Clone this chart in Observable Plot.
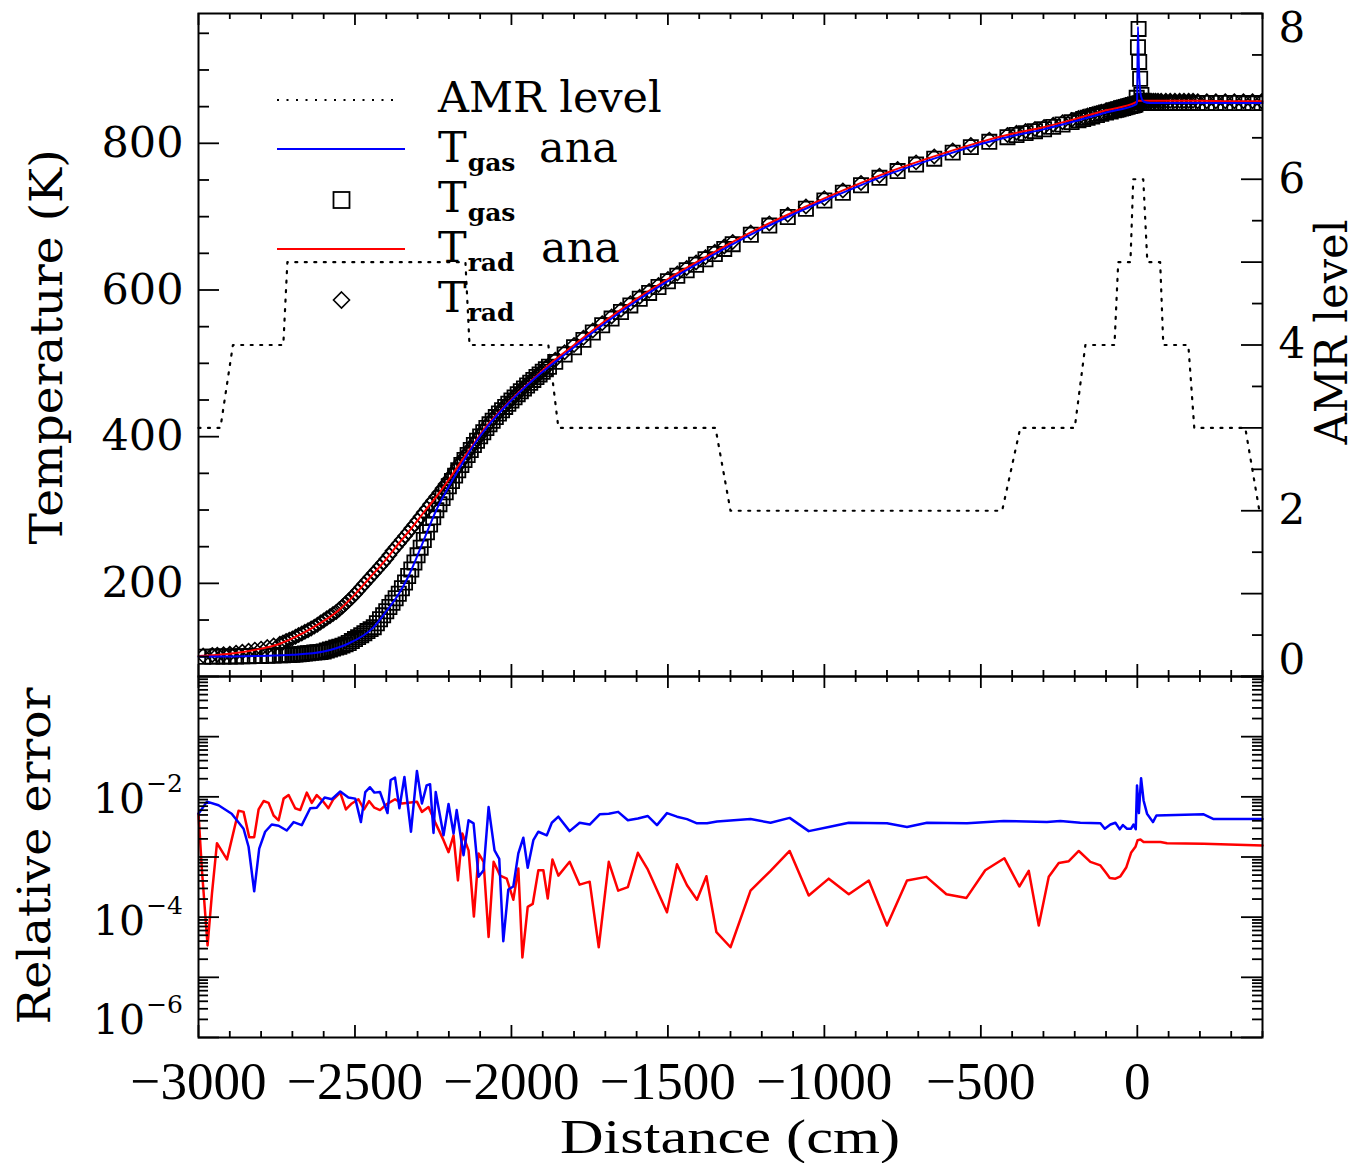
<!DOCTYPE html>
<html><head><meta charset="utf-8">
<script src="https://cdn.jsdelivr.net/npm/d3@7"></script>
<script src="https://cdn.jsdelivr.net/npm/@observablehq/plot@0.6"></script>
<style>
html,body{margin:0;padding:0;background:#fff;}
#wrap{position:relative;width:1358px;height:1163px;overflow:hidden;background:#fff;}
</style></head><body><div id="wrap"></div>
<script>
// ---------------- DATA ----------------
// AMR refinement level along the domain
const amrX     = [-3000,-2930,-2890,-2729,-2716,-2147,-2134,-1882,-1850,-1348,-1300,-432,-374,-200,-166,-73,-61,-22,-13,19,32,73,83,163,182,345,390,400];
const amrLevel = [3,3,4,4,5,5,4,4,3,3,2,2,3,3,4,4,5,5,6,6,5,5,4,4,3,3,2,2];

// analytic radiation temperature (K)
const anaRadX = [-3000,-2900,-2800,-2744,-2700,-2633,-2553,-2500,-2452,-2404,-2361,-2318,-2276,-2233,-2196,-2159,-2121,-2082,-2036,-1983,-1924,-1866,-1800,-1700,-1600,-1500,-1400,-1300,-1200,-1100,-1000,-900,-800,-700,-600,-500,-400,-300,-200,-100,-4,4,100,200,300,400];
const anaRadT = [101,104,111,117,125,140,163,185,208,231,254,276,299,322,344,367,390,413,435,458,481,503,525,558,588,615,640,664,686,706,725,743,760,775,789,802,813,822,833,845,856,858,858,858,857.5,857.5];

// analytic gas temperature (K)
const anaGasX = [-3000,-2900,-2800,-2700,-2600,-2526,-2441,-2398,-2361,-2331,-2305,-2284,-2263,-2241,-2213,-2184,-2152,-2118,-2078,-2033,-1980,-1921,-1857,-1800,-1700,-1600,-1500,-1400,-1300,-1200,-1100,-1000,-900,-800,-700,-600,-500,-400,-300,-200,-100,-4,-1,2,5,8,12,20,40,100,200,300,400];
const anaGasT = [100,100.3,101,102.5,107,117,140,163,185,208,233,255,277,299,322,344,367,390,413,435,458,481,503,522,555,585,612,637,661,683,703,722,740,757,772,786,799,810,819,830,842,853,856,959,905,878,864,857,855,855,855,855,855];

// simulation cells (markers)
const simX = [-2985,-2956,-2940,-2920,-2900,-2880,-2860,-2840,-2820,-2800,-2780,-2760,-2740,-2720,-2700,-2680,-2660,-2640,-2620,-2600,-2580,-2560,-2540,-2520,-2500,-2480,-2460,-2440,-2420,-2400,-2380,-2360,-2340,-2320,-2300,-2280,-2260,-2240,-2220,-2200,-2180,-2160,-2140,-2120,-2100,-2080,-2060,-2040,-2020,-2000,-1980,-1960,-1940,-1920,-1900,-1880,
  -1860,-1830,-1800,-1770,-1740,-1710,-1680,-1650,-1620,-1590,-1560,-1530,-1500,-1470,-1440,-1410,-1380,-1350,-1320,
  -1293,-1235,-1176,-1117,-1059,-1000,-941,-883,-824,-766,-707,-649,-590,-532,-473,-415,
  -386,-357,-327,-298,-269,-239,-210,
  -188,-173,-159,-144,-129,-115,-100,-85,
  -74,-67,-60,-52,-45,-38,-31,-23,
  -18,-14,-10,-6,-2,2,4,6,9,13,17,
  22,29,36,44,51,58,66,
  76,91,105,120,135,149,164,178,
  193,222,251,281,310,339,368,397];
const simTrad = [101.5,102.3,102.8,103.4,104,105.4,106.8,108.2,109.6,111,113.1,115.3,117.7,121.4,125,129.5,133.9,138.4,143.7,149.5,155.2,161,168.4,176.7,185,194.6,204.2,213.8,223.3,233.1,244.3,254.5,264.7,275,285.8,296.8,307.7,318.3,329.7,341.6,354,366.4,378.5,390.6,402.4,414,424.5,433.1,442,450.6,459.2,467,474.8,482.5,490.1,497.7,
  505,515,525,534.9,544.8,554.7,564,573,582,590.7,598.8,606.9,615,622.5,630,637.5,644.8,652,659.2,
  665.5,678.3,690.8,702.6,713.8,725,735.6,745.9,755.9,765.1,774,782.1,790.3,797.8,805,811.4,
  814.3,816.9,819.6,822.2,825.4,828.7,831.9,
  834.4,836.2,837.9,839.7,841.5,843.2,845,846.2,
  848,848.8,849.6,850.5,851.3,852.1,852.9,853.8,
  854.4,854.9,855.3,855.8,856.6,857.5,858,858,858,858,858,
  858,858,858,858,858,858,858,
  858,858,858,858,858,858,858,858,
  857.5,857.5,857.5,857.5,857.5,857.5,857.5,857.5];
const simTgas = [100,100.1,100.2,100.2,100.3,100.4,100.6,100.7,100.9,101,101.3,101.6,101.9,102.2,102.5,103.4,104.3,105.2,106.1,107,109.7,112.4,115.1,118.6,124,129.4,134.9,140.3,151,161.9,173.6,185.8,201.1,218.9,238.2,259.2,280.1,299.8,316.3,332.3,346.9,361.3,375.1,388.6,400.4,411.9,421.8,431.6,440.6,449.3,458,465.8,473.6,481.3,488.5,495.4,
  502,512,522,532,542,552,561,570,579,588,596,604,612,619.5,627,634.5,642,649,656,
  662.5,675.3,687.8,699.6,710.8,722,732.6,742.9,752.9,762.1,771,779.1,787.3,794.8,802,808.4,
  811.3,813.9,816.6,819.2,822.4,825.7,828.9,
  831.4,833.2,834.9,836.7,838.5,840.2,842,843.2,
  845,845.8,846.6,847.5,848.3,849.1,849.9,850.8,
  851.4,851.9,852.3,853,862,931,956,911,888,866,858,
  856,855,855,855,855,855,855,
  855,855,855,855,855,855,855,855,
  855,855,855,855,855,855,855,855];
// additional cells of the finest (level 4-5) zone, where markers overlap into a solid band
const simDenseX = [-2730,-2710,-2690,-2670,-2650,-2630,-2610,-2590,-2570,-2550,-2530,-2510,-2490,-2470,-2450,-2430,-2410,-2390,-2370,-2350,-2330,-2310,-2290,-2270,-2250,-2230,-2210,-2190,-2170,-2150,-2130,-2110,-2090,-2070,-2050,-2030,-2010,-1990,-1970,-1950,-1930,-1910,-1890];
const simDenseTrad = [119.5,123.2,127.2,131.7,136.1,141,146.6,152.3,158.1,164.7,172.5,180.8,189.8,199.4,209,218.5,228.2,238.7,249.4,259.6,269.8,280.4,291.3,302.2,313,324,335.6,347.8,360.2,372.4,384.5,396.5,408.2,419.2,428.8,437.5,446.3,454.9,463.1,470.9,478.6,486.3,493.9];
const simDenseTgas = [102,102.3,103,103.8,104.7,105.6,106.5,108.3,111,113.7,116.8,121.3,126.7,132.1,137.6,145.6,156.4,167.7,179.7,193.4,210,228.5,248.7,269.6,290,308,324.3,339.6,354.1,368.2,381.8,394.5,406.1,416.8,426.7,436.1,444.9,453.6,461.9,469.7,477.4,484.9,492];

// relative error, log10 values
const errGasX = [-3000,-2973,-2936,-2894,-2856,-2840,-2822,-2806,-2787,-2766,-2744,-2718,-2696,-2670,-2643,-2622,-2597,-2574,-2547,-2521,-2499,-2481,-2467,-2452,-2438,-2420,-2396,-2386,-2372,-2358,-2342,-2321,-2302,-2286,-2271,-2260,-2249,-2242,-2217,-2201,-2185,-2175,-2153,-2137,-2121,-2105,-2089,-2073,-2054,-2039,-2026,-2010,-1994,-1978,-1962,-1948,-1930,-1914,-1887,-1871,-1850,-1814,-1782,-1750,-1718,-1689,-1659,-1628,-1596,-1564,-1535,-1503,-1471,-1439,-1407,-1375,-1343,-1236,-1172,-1111,-1050,-986,-922,-800,-736,-672,-544,-427,-289,-246,-182,-118,-104,-86,-70,-56,-46,-33,-20,-12,-5,-1,5,12,20,31,50,61,212,244,400];
const errGasLog = [-2.28,-2.08,-2.14,-2.28,-2.53,-2.83,-3.57,-2.86,-2.58,-2.46,-2.48,-2.56,-2.42,-2.47,-2.19,-2.18,-2.01,-2.04,-1.91,-2.01,-2.03,-2.42,-1.92,-1.84,-1.93,-1.92,-2.27,-1.72,-1.68,-2.19,-1.67,-2.58,-1.57,-2.11,-1.81,-1.79,-2.6,-1.92,-2.64,-2.12,-2.61,-2.22,-2.97,-2.39,-2.44,-3.33,-3.22,-2.17,-2.89,-3.03,-4.4,-3.54,-3.49,-2.94,-2.68,-3.18,-2.72,-2.58,-2.64,-2.43,-2.33,-2.57,-2.43,-2.46,-2.29,-2.28,-2.25,-2.39,-2.36,-2.32,-2.47,-2.27,-2.33,-2.37,-2.44,-2.44,-2.41,-2.37,-2.43,-2.35,-2.57,-2.5,-2.43,-2.44,-2.5,-2.43,-2.44,-2.4,-2.42,-2.4,-2.43,-2.44,-2.53,-2.46,-2.43,-2.54,-2.47,-2.53,-2.53,-2.46,-2.54,-1.81,-2.27,-1.69,-2.06,-2.28,-2.42,-2.31,-2.29,-2.37,-2.37];
const errRadX = [-3000,-2989,-2971,-2957,-2941,-2909,-2872,-2856,-2838,-2822,-2808,-2792,-2776,-2760,-2744,-2728,-2712,-2691,-2675,-2654,-2638,-2622,-2601,-2585,-2569,-2547,-2529,-2510,-2489,-2471,-2455,-2438,-2420,-2398,-2372,-2350,-2329,-2302,-2286,-2265,-2244,-2217,-2201,-2185,-2171,-2157,-2137,-2120,-2105,-2089,-2073,-2057,-2036,-2015,-1994,-1978,-1965,-1948,-1932,-1914,-1898,-1884,-1869,-1850,-1814,-1782,-1750,-1721,-1689,-1659,-1628,-1596,-1564,-1503,-1471,-1439,-1407,-1377,-1345,-1300,-1236,-1172,-1111,-1050,-986,-922,-858,-800,-736,-674,-610,-546,-486,-425,-377,-347,-315,-283,-251,-219,-187,-150,-118,-102,-88,-70,-54,-35,-20,-6,1,10,20,74,95,212,400];
const errRadLog = [-2.28,-3.22,-4.47,-3.61,-2.77,-3.04,-2.23,-2.25,-2.67,-2.67,-2.21,-2.07,-2.1,-2.31,-2.39,-2.03,-1.97,-2.19,-2.22,-1.93,-2.1,-1.97,-2.08,-2.19,-2.04,-1.93,-2.21,-2.11,-2.04,-2.21,-2.07,-2.18,-2.22,-2.12,-2.04,-2.11,-2.1,-2.08,-2.25,-2.17,-2.42,-2.72,-2.92,-2.64,-3.39,-2.61,-2.89,-3.99,-2.94,-3.08,-4.33,-3.08,-3.31,-3.36,-3.71,-3.19,-4.67,-3.83,-3.78,-3.22,-3.22,-3.69,-3.04,-3.31,-3.08,-3.46,-3.41,-4.5,-3.08,-3.56,-3.5,-2.93,-3.21,-3.92,-3.12,-3.47,-3.71,-3.32,-4.25,-4.5,-3.56,-3.23,-2.9,-3.64,-3.36,-3.62,-3.39,-4.14,-3.39,-3.33,-3.62,-3.68,-3.22,-3.02,-3.49,-3.23,-4.14,-3.33,-3.1,-3.07,-2.9,-3.08,-3.14,-3.25,-3.35,-3.36,-3.32,-3.17,-2.93,-2.83,-2.72,-2.71,-2.75,-2.75,-2.77,-2.78,-2.81];

// axes / tick labels
const xMajor = [-3000,-2500,-2000,-1500,-1000,-500,0];
const xTickLabels = ["\u22123000","\u22122500","\u22122000","\u22121500","\u22121000","\u2212500","0"];
const tMajor = [200,400,600,800];
const tTickLabels = ["200","400","600","800"];
const amrLabelValues = [0,2,4,6,8];
const amrTickLabels = ["0","2","4","6","8"];
const errLabelExp = [-2,-4,-6];
const errTickLabels = ["\u22122","\u22124","\u22126"];

// ---------------- LAYOUT ----------------
const W = 1358, ML = 198, MR = 96;
const FW = W - ML - MR;          // frame width
const TOP_H = 663, BOT_H = 361;  // frame heights
const xDomain = [-3000, 400];
const serif = "'DejaVu Serif', serif";
const cond = "'Liberation Serif', serif";
const BLUE = "#0000ff", RED = "#ff0000";

const xMinor = d3.range(-3000, 401, 100).filter(v => !xMajor.includes(v));
const tMinor = d3.range(100, 977, 50).filter(v => !tMajor.includes(v));
const amrMajor = d3.range(0, 9, 1);
const amrMinor = d3.range(0.5, 8, 1);
const errMajor = d3.range(-6, 1).map(e => Math.pow(10, e));
const errMinor = [];
for (let e = -6; e < 0; e++) for (let k = 2; k < 10; k++) errMinor.push(k * Math.pow(10, e));

function xTickMarks(H) {
  const s = {stroke: "black", strokeWidth: 1.8};
  return [
    Plot.tickX(xMajor, {x: d => d, insetBottom: H - 12, ...s}),
    Plot.tickX(xMinor, {x: d => d, insetBottom: H - 6, ...s}),
    Plot.tickX(xMajor, {x: d => d, insetTop: H - 12, ...s}),
    Plot.tickX(xMinor, {x: d => d, insetTop: H - 6, ...s})
  ];
}
const wrap = document.getElementById("wrap");
const abs = top => ({position: "absolute", left: "0px", top: top + "px", background: "transparent", overflow: "visible"});

// ---------------- AMR overlay (right axis) ----------------
const amrPlot = Plot.plot({
  width: W, height: 678, marginLeft: ML, marginRight: MR, marginTop: 13, marginBottom: 2,
  x: {domain: xDomain, axis: null},
  y: {domain: [0, 8], axis: null},
  style: abs(0),
  marks: [
    Plot.line(amrX, {x: amrX, y: amrLevel, stroke: "black", strokeWidth: 2.2, strokeDasharray: "2,7.5"}),
    Plot.tickY(amrMajor, {y: d => d, insetLeft: FW - 21, stroke: "black", strokeWidth: 1.8}),
    Plot.tickY(amrMinor, {y: d => d, insetLeft: FW - 10, stroke: "black", strokeWidth: 1.8}),
    Plot.text(amrLabelValues.filter(v => v > 0 && v < 8), {y: d => d, text: d => amrTickLabels[amrLabelValues.indexOf(d)], frameAnchor: "right", dx: 16, textAnchor: "start", fontSize: 42, fontFamily: serif, fill: "black"}),
    Plot.text([8], {y: d => d, text: d => amrTickLabels[amrLabelValues.indexOf(d)], frameAnchor: "right", dx: 16, dy: 15, textAnchor: "start", fontSize: 42, fontFamily: serif, fill: "black"}),
    Plot.text([0], {y: d => d, text: d => amrTickLabels[amrLabelValues.indexOf(d)], frameAnchor: "right", dx: 16, dy: -16, textAnchor: "start", fontSize: 42, fontFamily: serif, fill: "black"})
  ]
});
wrap.appendChild(amrPlot);
d3.select(amrPlot).append("text")
  .attr("transform", "translate(1347,332) rotate(-90)")
  .attr("text-anchor", "middle").attr("font-family", serif).attr("font-size", 44)
  .attr("textLength", 225).attr("lengthAdjust", "spacingAndGlyphs").attr("fill", "black")
  .text("AMR level");

// ---------------- Temperature panel ----------------
const allSimX = simX.concat(simDenseX);
const allSimTgas = simTgas.concat(simDenseTgas);
const allSimTrad = simTrad.concat(simDenseTrad);
const topPlot = Plot.plot({
  width: W, height: 678, marginLeft: ML, marginRight: MR, marginTop: 13, marginBottom: 2,
  x: {domain: xDomain, axis: null},
  y: {domain: [73, 977], axis: null},
  style: abs(0),
  marks: [
    Plot.dot(allSimX, {x: allSimX, y: allSimTgas, symbol: "square", r: 8, stroke: "black", strokeWidth: 1.8, fill: "none", clip: true}),
    Plot.dot(allSimX, {x: allSimX, y: allSimTrad, symbol: "diamond2", r: 6.4, stroke: "black", strokeWidth: 1.6, fill: "none", clip: true}),
    Plot.line(anaRadX, {x: anaRadX, y: anaRadT, stroke: RED, strokeWidth: 2, curve: "monotone-x"}),
    Plot.line(anaGasX, {x: anaGasX, y: anaGasT, stroke: BLUE, strokeWidth: 2, curve: "monotone-x"}),
    Plot.tickY(tMajor, {y: d => d, insetRight: FW - 21, stroke: "black", strokeWidth: 1.8}),
    Plot.tickY(tMinor, {y: d => d, insetRight: FW - 11, stroke: "black", strokeWidth: 1.8}),
    ...xTickMarks(TOP_H),
    Plot.axisY(tMajor, {tickSize: 0, tickPadding: 15, fontSize: 43, fontFamily: serif, tickFormat: d => tTickLabels[tMajor.indexOf(d)], label: null}),
    Plot.frame({stroke: "black", strokeWidth: 2})
  ]
});
wrap.appendChild(topPlot);
const ts = d3.select(topPlot);
ts.append("text")
  .attr("transform", "translate(62,347) rotate(-90)")
  .attr("text-anchor", "middle").attr("font-family", serif).attr("font-size", 44)
  .attr("textLength", 395).attr("lengthAdjust", "spacingAndGlyphs").attr("fill", "black")
  .text("Temperature (K)");

// legend
const lg = ts.append("g").attr("font-family", serif).attr("fill", "black").attr("text-anchor", "start");
lg.append("line").attr("x1", 277).attr("x2", 400).attr("y1", 100).attr("y2", 100)
  .attr("stroke", "black").attr("stroke-width", 2.2).attr("stroke-dasharray", "2,7.5");
lg.append("text").attr("x", 438).attr("y", 112).attr("font-size", 43).attr("text-anchor", "start").text("AMR level");
function lgT(y, sub) {
  const t = lg.append("text").attr("x", 438).attr("y", y).attr("font-size", 43).attr("text-anchor", "start");
  t.append("tspan").text("T");
  t.append("tspan").attr("font-size", 25).attr("font-weight", "bold").attr("dy", 9).attr("dx", 1).text(sub);
}
lg.append("line").attr("x1", 277).attr("x2", 405).attr("y1", 149).attr("y2", 149).attr("stroke", BLUE).attr("stroke-width", 2);
lgT(162, "gas");
lg.append("text").attr("x", 539).attr("y", 162).attr("font-size", 43).attr("text-anchor", "start").text("ana");
lg.append("rect").attr("x", 333.5).attr("y", 192).attr("width", 16).attr("height", 16).attr("fill", "none").attr("stroke", "black").attr("stroke-width", 1.8);
lgT(212, "gas");
lg.append("line").attr("x1", 277).attr("x2", 405).attr("y1", 249).attr("y2", 249).attr("stroke", RED).attr("stroke-width", 2);
lgT(262, "rad");
lg.append("text").attr("x", 541).attr("y", 262).attr("font-size", 43).attr("text-anchor", "start").text("ana");
lg.append("path").attr("d", "M341.5,292L349.5,300L341.5,308L333.5,300Z").attr("fill", "none").attr("stroke", "black").attr("stroke-width", 1.6);
lgT(312, "rad");

// ---------------- Relative error panel ----------------
const botPlot = Plot.plot({
  width: W, height: 489, marginLeft: ML, marginRight: MR, marginTop: 2, marginBottom: 126,
  x: {domain: xDomain, axis: null},
  y: {type: "log", domain: [1e-6, 1], axis: null},
  style: abs(674),
  marks: [
    Plot.line(errRadX, {x: errRadX, y: errRadLog.map(v => Math.pow(10, v)), stroke: RED, strokeWidth: 2.5}),
    Plot.line(errGasX, {x: errGasX, y: errGasLog.map(v => Math.pow(10, v)), stroke: BLUE, strokeWidth: 2.5}),
    Plot.tickY(errMajor, {y: d => d, insetRight: FW - 21, stroke: "black", strokeWidth: 1.8}),
    Plot.tickY(errMinor, {y: d => d, insetRight: FW - 10, stroke: "black", strokeWidth: 1.8}),
    Plot.tickY(errMajor, {y: d => d, insetLeft: FW - 21, stroke: "black", strokeWidth: 1.8}),
    Plot.tickY(errMinor, {y: d => d, insetLeft: FW - 10, stroke: "black", strokeWidth: 1.8}),
    ...xTickMarks(BOT_H),
    Plot.axisX(xMajor, {anchor: "bottom", tickSize: 0, tickPadding: 24, fontSize: 53, fontFamily: cond, tickFormat: d => xTickLabels[xMajor.indexOf(d)], label: null}),
    Plot.frame({stroke: "black", strokeWidth: 2})
  ]
});
wrap.appendChild(botPlot);
const bs = d3.select(botPlot);
const sy = botPlot.scale("y");
const errShift = [17, 18, -3];
errLabelExp.forEach((e, i) => {
  const yy = sy.apply(Math.pow(10, e)) + errShift[i];
  const t = bs.append("text").attr("x", 93).attr("y", yy).attr("text-anchor", "start")
    .attr("font-family", serif).attr("font-size", 41).attr("fill", "black");
  t.append("tspan").text("10");
  t.append("tspan").attr("font-size", 25).attr("dy", -21).attr("dx", 1).text(errTickLabels[i]);
});
bs.append("text")
  .attr("transform", "translate(50,182) rotate(-90)")
  .attr("text-anchor", "middle").attr("font-family", serif).attr("font-size", 45)
  .attr("textLength", 337).attr("lengthAdjust", "spacingAndGlyphs").attr("fill", "black")
  .text("Relative error");
bs.append("text").attr("x", 730).attr("y", 479).attr("text-anchor", "middle")
  .attr("font-family", cond).attr("font-size", 48)
  .attr("textLength", 340).attr("lengthAdjust", "spacingAndGlyphs").attr("fill", "black")
  .text("Distance (cm)");
</script></body></html>
